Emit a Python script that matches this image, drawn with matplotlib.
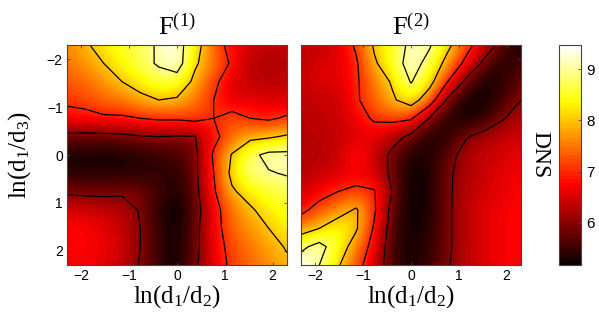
#!/usr/bin/env python3

import matplotlib
matplotlib.use("Agg")
import matplotlib.pyplot as plt
import numpy as np

plt.rcParams['font.family'] = ['Liberation Sans', 'DejaVu Sans']
plt.rcParams['mathtext.fontset'] = 'custom'
plt.rcParams['mathtext.rm'] = 'Liberation Serif'
plt.rcParams['mathtext.it'] = 'Liberation Serif'
plt.rcParams['mathtext.default'] = 'rm'

grid_pos = [-2.3, -1.917, -1.533, -1.15, -0.767, -0.383, 0.0,
            0.383, 0.767, 1.15, 1.533, 1.917, 2.3]
ticks = [-2, -1, 0, 1, 2]
levels = [6, 7, 8, 9]
cbar_ticks = [6, 7, 8, 9]
vmin, vmax = 5.18, 9.47

# rows run from ln(d1/d3) = -2.3 down to 2.3
f1 = [
    [7.6, 7.9, 8.3, 8.5, 8.7, 9.1, 9.4, 8.3, 7.4, 6.7, 6.5, 6.4, 6.4],
    [7.5, 7.7, 8.0, 8.4, 8.7, 9.1, 9.4, 8.1, 7.5, 6.9, 6.3, 6.2, 6.3],
    [7.3, 7.4, 7.7, 8.0, 8.3, 8.6, 8.6, 7.8, 7.2, 6.5, 6.4, 6.3, 6.4],
    [7.1, 7.2, 7.4, 7.5, 7.8, 8.0, 7.9, 7.5, 7.0, 6.5, 6.6, 6.5, 6.5],
    [6.8, 6.8, 6.9, 6.9, 7.0, 7.1, 7.1, 7.2, 7.0, 7.3, 7.0, 6.9, 7.1],
    [5.8, 5.8, 5.8, 5.85, 5.95, 6.0, 5.95, 5.98, 6.8, 7.4, 7.8, 7.9, 8.1],
    [5.3, 5.3, 5.25, 5.3, 5.4, 5.5, 5.6, 5.85, 7.1, 8.05, 8.8, 9.2, 9.2],
    [5.4, 5.4, 5.4, 5.4, 5.4, 5.4, 5.4, 5.85, 7.0, 8.2, 8.9, 8.95, 9.05],
    [5.9, 5.85, 5.85, 5.9, 5.9, 5.6, 5.3, 5.8, 6.9, 7.9, 8.3, 8.6, 8.7],
    [6.5, 6.5, 6.4, 6.3, 5.95, 5.4, 5.15, 5.7, 6.7, 7.5, 7.9, 8.3, 8.5],
    [6.8, 6.75, 6.6, 6.4, 6.0, 5.5, 5.2, 5.8, 6.7, 7.4, 7.7, 8.0, 8.3],
    [6.75, 6.75, 6.65, 6.5, 6.0, 5.5, 5.2, 5.8, 6.7, 7.2, 7.5, 7.8, 8.05],
    [6.7, 6.7, 6.6, 6.4, 5.95, 5.5, 5.2, 5.9, 6.6, 7.15, 7.4, 7.6, 7.9],
]
f2 = [
    [6.4, 6.4, 6.5, 7.1, 8.1, 8.5, 9.2, 9.1, 8.2, 7.3, 6.5, 5.7, 5.25],
    [6.3, 6.5, 6.6, 6.9, 7.9, 8.5, 9.4, 8.7, 7.7, 6.8, 5.8, 5.3, 5.6],
    [6.4, 6.6, 6.5, 6.9, 7.5, 8.1, 9.05, 8.3, 7.0, 5.8, 5.3, 5.4, 5.8],
    [6.3, 6.4, 6.4, 6.9, 7.4, 7.9, 8.4, 7.5, 5.85, 5.3, 5.2, 5.6, 6.0],
    [6.3, 6.4, 6.4, 6.7, 7.1, 7.2, 7.1, 5.95, 5.4, 5.2, 5.45, 5.95, 6.3],
    [6.3, 6.3, 6.4, 6.5, 6.6, 6.3, 5.8, 5.3, 5.4, 5.95, 6.25, 6.4, 6.5],
    [6.2, 6.3, 6.4, 6.95, 6.5, 5.8, 5.4, 5.3, 5.75, 6.25, 6.4, 6.5, 6.6],
    [6.3, 6.4, 6.5, 6.6, 6.6, 5.8, 5.2, 5.3, 5.9, 6.25, 6.4, 6.6, 6.7],
    [6.4, 6.7, 7.0, 7.2, 7.05, 5.95, 5.2, 5.3, 5.9, 6.3, 6.5, 6.6, 6.75],
    [6.8, 7.3, 7.6, 8.1, 7.1, 5.7, 5.2, 5.3, 5.9, 6.35, 6.55, 6.7, 6.8],
    [7.6, 8.0, 8.5, 8.1, 6.9, 5.6, 5.2, 5.4, 5.9, 6.35, 6.55, 6.7, 6.8],
    [8.8, 9.3, 8.5, 7.6, 6.7, 5.5, 5.3, 5.4, 5.9, 6.35, 6.55, 6.7, 6.8],
    [9.5, 9.0, 8.1, 7.3, 6.5, 5.5, 5.3, 5.5, 5.95, 6.35, 6.55, 6.7, 6.8],
]

W, H = 599, 322
cmap = plt.get_cmap('hot', 64)
frame = '#444444'


def pixel_axes(fig, x0, y0, x1, y1):
    return fig.add_axes([x0 / W, 1 - y1 / H, (x1 - x0) / W, (y1 - y0) / H])


def draw_panel(ax, values, title):
    half = (grid_pos[1] - grid_pos[0]) / 2
    ax.imshow(values, cmap=cmap, vmin=vmin, vmax=vmax, interpolation='bicubic',
              extent=[grid_pos[0] - half, grid_pos[-1] + half,
                      grid_pos[-1] + half, grid_pos[0] - half], aspect='auto')
    ax.contour(grid_pos, grid_pos, values, levels=levels, colors='k', linewidths=0.9)
    ax.set_xlim(-2.3, 2.3)
    ax.set_ylim(2.3, -2.3)
    ax.set_xticks(ticks)
    ax.set_yticks(ticks)
    ax.tick_params(direction='in', length=2, width=0.6, top=True, right=True,
                   labelsize=10, color=frame, pad=3)
    for s in ax.spines.values():
        s.set_color(frame)
        s.set_linewidth(0.8)
    ax.set_xlabel(r'$\mathrm{ln(d_1/d_2)}$', fontsize=18, labelpad=0)
    ax.set_title(title, fontsize=19, pad=7)


fig = plt.figure(figsize=(W / 100, H / 100), dpi=100)
ax1 = pixel_axes(fig, 67, 45, 287, 265)
ax2 = pixel_axes(fig, 301, 45, 521, 265)
draw_panel(ax1, f1, r'$\mathrm{F^{(1)}}$')
draw_panel(ax2, f2, r'$\mathrm{F^{(2)}}$')
ax1.set_ylabel(r'$\mathrm{ln(d_1/d_3)}$', fontsize=18, labelpad=10)
ax2.tick_params(labelleft=False)

cax = pixel_axes(fig, 559, 45, 581, 265)
sm = plt.cm.ScalarMappable(norm=plt.Normalize(vmin, vmax), cmap=cmap)
cb = fig.colorbar(sm, cax=cax, ticks=cbar_ticks)
cb.ax.tick_params(direction='in', length=2, width=0.6, labelsize=11, color=frame, pad=4)
cb.outline.set_edgecolor(frame)
cb.outline.set_linewidth(0.8)
fig.text(540 / W, 1 - 155 / H, 'DNS', rotation=270, ha='center', va='center',
         fontsize=17, family='Liberation Serif')

fig.savefig('out.png', dpi=100)
